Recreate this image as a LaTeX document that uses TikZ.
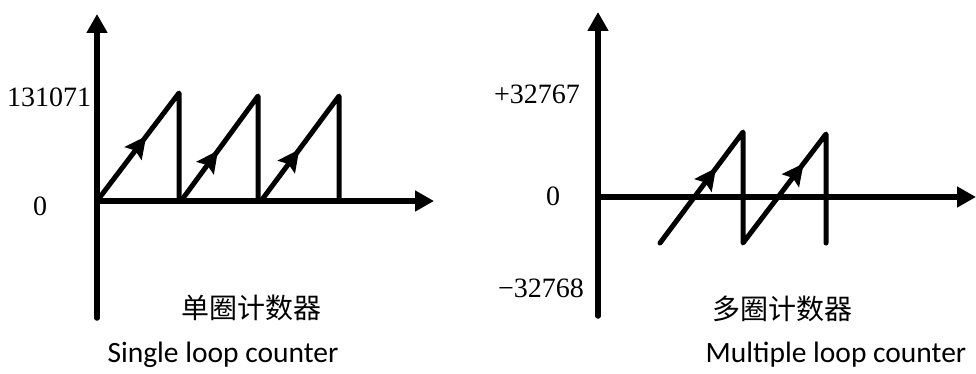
\documentclass[tikz,border=0pt]{standalone}
\usepackage{fontspec}
\setmainfont{Liberation Serif}
\newfontfamily\cjkfont{Noto Sans CJK SC}
\newfontfamily\capfont{Carlito}
\usetikzlibrary{arrows.meta,calc}
\newcommand\mytip[3]{%
  \coordinate (T) at ($(#1)!#3!(#2)$);
  \coordinate (B) at ($(T)!22pt!(#1)$);
  \coordinate (I) at ($(T)!18pt!(#1)$);
  \fill ($(B)!11pt!90:(T)$) -- (T) -- ($(B)!11pt!-90:(T)$) -- (I) -- cycle;}
\begin{document}
\begin{tikzpicture}[x=1pt,y=-1pt,
  axis/.style={line width=5.5pt,line cap=round,-{Triangle[length=19pt,width=20pt]}},
  saw/.style={line width=5pt,line cap=round,line join=round},
  num/.style={font=\fontsize{28}{32}\selectfont},
  cjk/.style={font=\cjkfont\fontsize{28}{32}\selectfont},
  eng/.style={font=\capfont\fontsize{29.5}{34}\selectfont}]
\useasboundingbox (0,0) rectangle (976,374);
% left panel
\coordinate (lo) at (97,201);
\coordinate (lb) at (97,318);
\coordinate (lt) at (97,14);
\coordinate (lr) at (434,201);
\draw[axis] (lb) -- (lt);
\draw[axis] (lo) -- (lr);
\coordinate (a1) at (97,201);  \coordinate (p1) at (179,93);  \coordinate (b1) at (179,201);
\coordinate (a2) at (181,201); \coordinate (p2) at (258,96);  \coordinate (b2) at (258,201);
\coordinate (a3) at (261,201); \coordinate (p3) at (339,96);  \coordinate (b3) at (339,201);
\draw[saw] (a1) -- (p1) -- (b1);
\draw[saw] (a2) -- (p2) -- (b2);
\draw[saw] (a3) -- (p3) -- (b3);
\mytip{a1}{p1}{0.60}
\mytip{a2}{p2}{0.48}
\mytip{a3}{p3}{0.49}
\node[num] (lmax) at (49,97) {131071};
\node[num] (lzero) at (40,206) {0};
\node[cjk] (lcn) at (251,308) {单圈计数器};
\node[eng] (len) at (223,355) {Single loop counter};
% right panel
\coordinate (ro) at (598,197);
\coordinate (rb) at (598,316);
\coordinate (rt) at (598,12);
\coordinate (rr) at (976,197);
\draw[axis] (rb) -- (rt);
\draw[axis] (ro) -- (rr);
\coordinate (c1) at (660,243); \coordinate (q1) at (743,132); \coordinate (d1) at (743,243);
\coordinate (q2) at (826,134); \coordinate (d2) at (826,243);
\draw[saw] (c1) -- (q1) -- (d1) -- (q2) -- (d2);
\mytip{c1}{q1}{0.675}
\mytip{d1}{q2}{0.73}
\node[num] (rmax) at (537,94) {+32767};
\node[num] (rzero) at (553,196) {0};
\node[num] (rmin) at (541,288) {−32768};
\node[cjk] (rcn) at (782,309) {多圈计数器};
\node[eng] (ren) at (836,355) {Multiple loop counter};
\end{tikzpicture}
\end{document}
